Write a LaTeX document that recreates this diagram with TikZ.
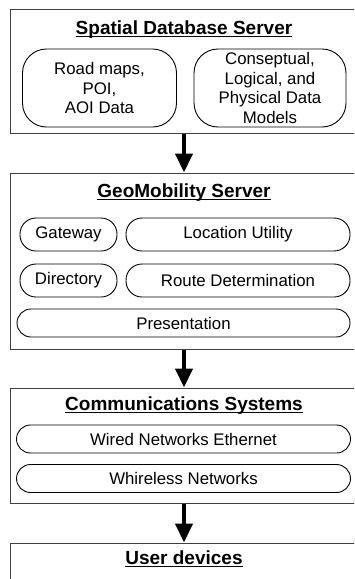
\documentclass[tikz,border=0pt]{standalone}
\usepackage{fontspec}
\setmainfont{Liberation Sans}
\usetikzlibrary{arrows.meta,positioning}

\tikzset{
  layer/.style={draw=black!75, line width=1pt, minimum width=348pt, inner sep=0pt},
  pill/.style={draw, line width=0.9pt, rounded corners=#1, align=center, inner sep=0pt,
               font=\fontsize{16.8}{19.5}\selectfont},
  pill/.default=14pt,
  title/.style={inner sep=0pt, anchor=base, font=\fontsize{19}{22}\selectfont\bfseries},
  ulline/.style={line width=1.5pt},
  flow/.style={line width=4.5pt, -{Triangle[width=17pt,length=19pt]}}
}

\begin{document}
\begin{tikzpicture}[x=1pt,y=-1pt]
  \useasboundingbox (0,0) rectangle (354,579);
  \clip (0,0) rectangle (354,579);

  % the four layers, running off the right (and bottom) edge
  \node[layer, minimum height=124pt] (sds) at (184,71) {};
  \node[layer, minimum height=176pt] (geo) at (184,261) {};
  \node[layer, minimum height=115pt] (com) at (184,445.5) {};
  \node[layer, minimum height=80pt] (usr) at (184,583) {};

  % layer titles
  \node[title] (sdsT) at (184,34) {Spatial Database Server};
  \node[title] (geoT) at (184,197) {GeoMobility Server};
  \node[title] (comT) at (184,410) {Communications Systems};
  \node[title] (usrT) at (184,564) {User devices};
  \foreach \t in {sdsT,geoT,comT,usrT}
    \draw[ulline] ([yshift=-2.5pt]\t.base west) -- ([yshift=-2.5pt]\t.base east);

  % spatial database server
  \node[pill=24pt, minimum width=154pt, minimum height=78pt] (maps) at (99.5,88)
    {Road maps,\\POI,\\AOI Data};
  \node[pill=24pt, minimum width=152pt, minimum height=78pt] (models) at (270,88)
    {Conseptual,\\Logical, and\\Physical Data\\Models};

  % geomobility server
  \node[pill=16pt, minimum width=97pt, minimum height=33pt] (gate) at (68.5,234.5) {Gateway};
  \node[pill=16pt, minimum width=224pt, minimum height=33pt] (loc) at (238,234.5) {Location Utility};
  \node[pill=16pt, minimum width=97pt, minimum height=33pt] (dir) at (68.5,280.5) {Directory};
  \node[pill=16pt, minimum width=224pt, minimum height=33pt] (route) at (238,280.5) {Route Determination};
  \node[pill=14pt, minimum width=333pt, minimum height=28pt] (pres) at (183.5,323) {Presentation};

  % communications systems
  \node[pill=14pt, minimum width=334pt, minimum height=28pt] (wired) at (183.5,439) {Wired Networks Ethernet};
  \node[pill=14pt, minimum width=334pt, minimum height=28pt] (wless) at (183.5,478.5) {Whireless Networks};

  % data flow between layers
  \draw[flow] (sds.south) -- (geo.north);
  \draw[flow] (geo.south) -- (com.north);
  \draw[flow] (com.south) -- (usr.north);
\end{tikzpicture}
\end{document}
